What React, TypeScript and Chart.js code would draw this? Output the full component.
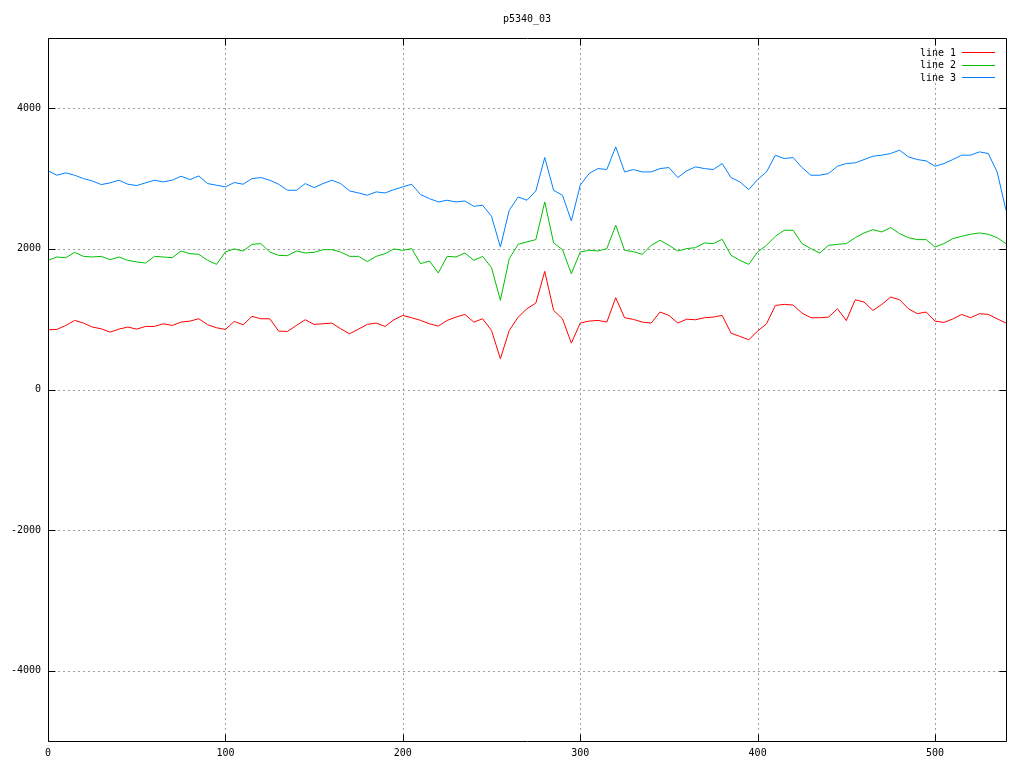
import React, { useEffect, useRef } from "react";
import { Chart, registerables } from "chart.js";

Chart.register(...registerables);

const chartTitle = "p5340_03";
const seriesLabels = ["line 1", "line 2", "line 3"];
const seriesColors = ["#ff0000", "#00c000", "#0080ff"];

const xTicks = [0, 100, 200, 300, 400, 500];
const yTicks = [-4000, -2000, 0, 2000, 4000];

const xs = [
  0, 5, 10, 15, 20, 25, 30, 35, 40, 45, 50, 55, 60, 65, 70, 75, 80, 85, 90, 95,
  100, 105, 110, 115, 120, 125, 130, 135, 140, 145, 150, 155, 160, 165, 170, 175, 180, 185, 190, 195,
  200, 205, 210, 215, 220, 225, 230, 235, 240, 245, 250, 255, 260, 265, 270, 275, 280, 285, 290, 295,
  300, 305, 310, 315, 320, 325, 330, 335, 340, 345, 350, 355, 360, 365, 370, 375, 380, 385, 390, 395,
  400, 405, 410, 415, 420, 425, 430, 435, 440, 445, 450, 455, 460, 465, 470, 475, 480, 485, 490, 495,
  500, 505, 510, 515, 520, 525, 530, 535, 540,
];

const line1 = [
  850, 854, 911, 983, 945, 888, 864, 816, 859, 888, 859, 897, 897, 935, 911, 959, 973, 1006, 921, 878,
  854, 968, 921, 1040, 1006, 1006, 831, 826, 911, 992, 926, 935, 945, 864, 793, 859, 926, 945, 897, 992,
  1054, 1021, 983, 935, 902, 983, 1030, 1068, 959, 1006, 840, 437, 840, 1030, 1149, 1230, 1680, 1125, 1006, 660,
  945, 973, 983, 959, 1306, 1021, 997, 959, 945, 1102, 1054, 945, 1000, 992, 1021, 1030, 1054, 802, 755, 707,
  831, 935, 1196, 1211, 1201, 1087, 1021, 1021, 1030, 1149, 980, 1277, 1244, 1125, 1211, 1315, 1277, 1149, 1078, 1102,
  973, 954, 1002, 1068, 1021, 1078, 1068, 1006, 945,
];

const line2 = [
  1837, 1885, 1875, 1951, 1894, 1885, 1894, 1847, 1885, 1837, 1814, 1799, 1894, 1885, 1875, 1970, 1932, 1923, 1837, 1780,
  1956, 2000, 1970, 2065, 2075, 1956, 1908, 1904, 1970, 1942, 1951, 1989, 1989, 1956, 1894, 1894, 1820, 1894, 1932, 1999,
  1980, 2004, 1790, 1828, 1657, 1894, 1885, 1942, 1837, 1894, 1733, 1268, 1861, 2065, 2100, 2132, 2668, 2085, 1989, 1647,
  1956, 1980, 1970, 2004, 2336, 1980, 1961, 1923, 2051, 2122, 2051, 1970, 2004, 2018, 2085, 2075, 2136, 1909, 1837, 1780,
  1956, 2051, 2179, 2265, 2265, 2075, 2004, 1942, 2051, 2065, 2075, 2160, 2227, 2274, 2241, 2303, 2217, 2160, 2132, 2132,
  2027, 2075, 2146, 2179, 2208, 2227, 2208, 2160, 2075,
];

const line3 = [
  3110, 3048, 3081, 3048, 3000, 2967, 2915, 2939, 2977, 2920, 2901, 2939, 2977, 2953, 2977, 3034, 2986, 3038, 2929, 2906,
  2882, 2944, 2920, 3000, 3015, 2977, 2920, 2834, 2834, 2929, 2872, 2929, 2977, 2929, 2825, 2796, 2763, 2811, 2796, 2844,
  2882, 2920, 2773, 2716, 2668, 2692, 2668, 2682, 2606, 2621, 2464, 2027, 2549, 2739, 2692, 2825, 3300, 2834, 2763, 2398,
  2906, 3072, 3143, 3129, 3452, 3095, 3129, 3095, 3095, 3143, 3157, 3015, 3110, 3167, 3143, 3129, 3214, 3015, 2953, 2844,
  2986, 3095, 3333, 3285, 3300, 3157, 3048, 3048, 3072, 3176, 3214, 3224, 3271, 3319, 3333, 3357, 3404, 3309, 3271, 3252,
  3176, 3214, 3271, 3333, 3333, 3380, 3357, 3095, 2549,
];

const series = [line1, line2, line3];
const FONT = "'DejaVu Sans Mono', monospace";

const framePlugin = {
  id: "gnuframe",
  beforeDatasetsDraw(chart: any) {
    const { ctx, chartArea: a, scales } = chart;
    const sx = scales.x;
    const sy = scales.y;
    ctx.save();
    ctx.strokeStyle = "#a0a0a0";
    ctx.lineWidth = 1;
    ctx.setLineDash([2, 3]);
    ctx.beginPath();
    xTicks.forEach((v) => {
      const px = Math.round(sx.getPixelForValue(v)) + 0.5;
      if (px <= a.left + 1 || px >= a.right - 1) return;
      ctx.moveTo(px, a.top);
      ctx.lineTo(px, a.bottom);
    });
    yTicks.forEach((v) => {
      const py = Math.round(sy.getPixelForValue(v)) + 0.5;
      ctx.moveTo(a.left, py);
      ctx.lineTo(a.right, py);
    });
    ctx.stroke();
    ctx.restore();
  },
  afterDatasetsDraw(chart: any) {
    const { ctx, chartArea: a, scales } = chart;
    const sx = scales.x;
    const sy = scales.y;
    const L = Math.round(a.left) + 0.5;
    const R = Math.round(a.right) + 0.5;
    const T = Math.round(a.top) + 0.5;
    const B = Math.round(a.bottom) + 0.5;
    ctx.save();
    ctx.setLineDash([]);
    ctx.strokeStyle = "#000000";
    ctx.lineWidth = 1;
    ctx.beginPath();
    ctx.rect(L, T, R - L, B - T);
    const tl = 7;
    xTicks.forEach((v) => {
      const px = Math.round(sx.getPixelForValue(v)) + 0.5;
      ctx.moveTo(px, B);
      ctx.lineTo(px, B - tl);
      ctx.moveTo(px, T);
      ctx.lineTo(px, T + tl);
    });
    yTicks.forEach((v) => {
      const py = Math.round(sy.getPixelForValue(v)) + 0.5;
      ctx.moveTo(L, py);
      ctx.lineTo(L + tl, py);
      ctx.moveTo(R, py);
      ctx.lineTo(R - tl, py);
    });
    ctx.stroke();

    // legend
    ctx.font = "10px " + FONT;
    ctx.textAlign = "right";
    ctx.textBaseline = "middle";
    seriesLabels.forEach((label, i) => {
      const y = 53 + i * 12.7;
      ctx.fillStyle = "#000000";
      ctx.fillText(label, 956, y);
      ctx.strokeStyle = seriesColors[i];
      ctx.lineWidth = 1;
      ctx.beginPath();
      ctx.moveTo(962, Math.round(y) - 0.5);
      ctx.lineTo(995, Math.round(y) - 0.5);
      ctx.stroke();
    });

    // title
    ctx.fillStyle = "#000000";
    ctx.textAlign = "center";
    ctx.textBaseline = "middle";
    ctx.fillText(chartTitle, (a.left + a.right) / 2, 19);
    ctx.restore();
  },
};

export default function App() {
  const ref = useRef<HTMLCanvasElement | null>(null);

  useEffect(() => {
    if (!ref.current) return;
    const chart = new Chart(ref.current, {
      type: "line",
      data: {
        datasets: series.map((vals, i) => ({
          label: seriesLabels[i],
          data: xs.map((x, j) => ({ x, y: vals[j] })),
          borderColor: seriesColors[i],
          backgroundColor: seriesColors[i],
          borderWidth: 1,
          pointRadius: 0,
          tension: 0,
          fill: false,
        })),
      },
      options: {
        responsive: false,
        animation: false,
        events: [],
        layout: { padding: { left: 0, top: 38, right: 18, bottom: 0 } },
        plugins: {
          legend: { display: false },
          title: { display: false },
          tooltip: { enabled: false },
        },
        scales: {
          x: {
            type: "linear",
            min: 0,
            max: 540,
            afterBuildTicks: (s: any) => {
              s.ticks = xTicks.map((v) => ({ value: v }));
            },
            afterFit: (s: any) => {
              s.height = 27;
            },
            grid: { display: false, drawTicks: false, tickLength: 0 },
            border: { display: false },
            ticks: {
              color: "#000000",
              padding: 6,
              maxRotation: 0,
              autoSkip: false,
              font: { family: FONT, size: 10 },
              callback: (v: any) => String(v),
            },
          },
          y: {
            type: "linear",
            min: -5000,
            max: 5000,
            afterBuildTicks: (s: any) => {
              s.ticks = yTicks.map((v) => ({ value: v }));
            },
            afterFit: (s: any) => {
              s.width = 48;
            },
            grid: { display: false, drawTicks: false, tickLength: 0 },
            border: { display: false },
            ticks: {
              color: "#000000",
              padding: 7,
              autoSkip: false,
              font: { family: FONT, size: 10 },
              callback: (v: any) => String(v),
            },
          },
        },
      },
      plugins: [framePlugin],
    });
    return () => chart.destroy();
  }, []);

  return (
    <div
      style={{
        position: "fixed",
        left: 0,
        top: 0,
        width: 1024,
        height: 768,
        background: "#ffffff",
      }}
    >
      <canvas ref={ref} width={1024} height={768} style={{ display: "block" }} />
    </div>
  );
}
